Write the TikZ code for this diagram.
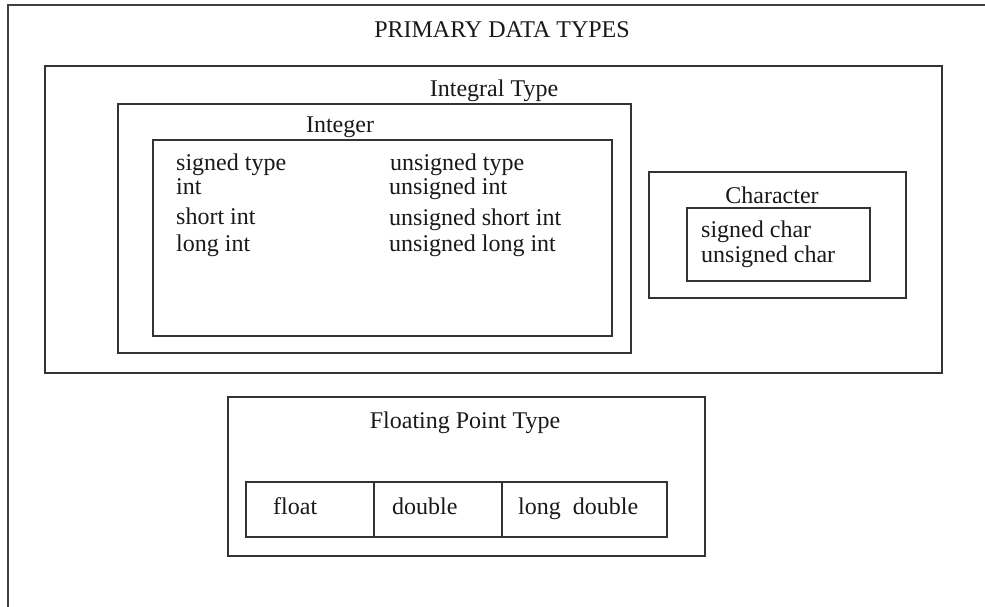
\documentclass[tikz,border=0pt]{standalone}
\usepackage{fontspec}
\setmainfont{Liberation Serif}
\tikzset{
  box/.style={draw=black!80, line width=1.4pt, inner sep=0pt, rectangle},
  lbl/.style={inner sep=0pt, font=\fontsize{24}{28}\selectfont, text=black!90},
  lt/.style={lbl, anchor=base west},
  ct/.style={lbl, anchor=base},
}
\newcommand{\boxat}[5]{\node[box, minimum width=#4pt-#2pt, minimum height=#5pt-#3pt] (#1) at ({(#2+#4)/2},{(#3+#5)/2}) {};}
\begin{document}
\begin{tikzpicture}[x=1pt,y=-1pt]
\useasboundingbox (0,0) rectangle (985,607);
\fill[white] (0,0) rectangle (985,607);
% outer frame (top and left only)
\coordinate (otr) at (985,5);
\coordinate (otl) at (8,5);
\coordinate (obl) at (8,607);
\draw[draw=black!75, line width=2pt] (otr) -- (otl) -- (obl);
\node[ct] (title) at (502,38) {PRIMARY DATA TYPES};
% integral
\boxat{integral}{45}{66}{942}{373}
\node[ct] (integralt) at (494,97) {Integral Type};
\boxat{integer}{118}{104}{631}{353}
\node[ct] (integert) at (340,133) {Integer};
\boxat{intin}{153}{140}{612}{336}
\node[lt] (s1) at (176,170) {signed type};
\node[lt] (s2) at (176,194) {int};
\node[lt] (s3) at (176,224) {short int};
\node[lt] (s4) at (176,251) {long int};
\node[lt] (u1) at (390,171) {unsigned type};
\node[lt] (u2) at (389,194) {unsigned int};
\node[lt] (u3) at (389,225) {unsigned short int};
\node[lt] (u4) at (389,251) {unsigned long int};
% character
\boxat{charb}{649}{172}{906}{298}
\node[ct] (chart) at (772,203) {Character};
\boxat{charin}{687}{208}{870}{281}
\node[lt] (c1) at (701,237) {signed char};
\node[lt] (c2) at (701,262) {unsigned char};
% floating
\boxat{floatb}{228}{397}{705}{556}
\node[ct] (floatt) at (465,428) {Floating Point Type};
\boxat{cf}{246}{482}{374}{537}
\boxat{cd}{374}{482}{502}{537}
\boxat{cl}{502}{482}{667}{537}
\node[lt] (f1) at (273,514) {float};
\node[lt] (f2) at (392,514) {double};
\node[lt] (f3) at (518,514) {long\ \ double};
\end{tikzpicture}
\end{document}
